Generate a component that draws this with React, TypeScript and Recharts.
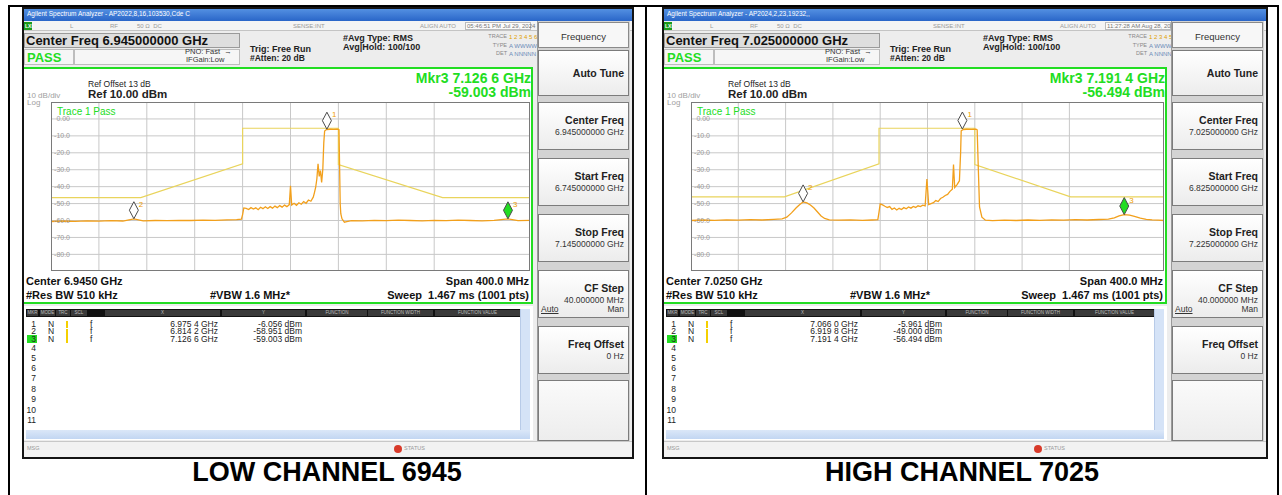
import React from 'react';
import { ComposedChart, Line, XAxis, YAxis, CartesianGrid, ReferenceDot } from 'recharts';

const FONT = '"Liberation Sans", Arial, Helvetica, sans-serif';
const TRACE_COLOR = '#f2a01c';
const LIMIT_COLOR = '#e9d45c';
const GREEN = '#22dd22';

const levelTicks = [10, 0, -10, -20, -30, -40, -50, -60, -70, -80, -90];
const levelLabels = ['', '0.00', '-10.0', '-20.0', '-30.0', '-40.0', '-50.0', '-60.0', '-70.0', '-80.0', ''];

// low channel 6945, span 6.745 - 7.145 GHz
const lowGrid = [6.745, 6.785, 6.825, 6.865, 6.905, 6.945, 6.985, 7.025, 7.065, 7.105, 7.145];
const lowLimit: [number, number][] = [
  [6.745, -46.5], [6.82, -46.5], [6.905, -26.5], [6.905, -5.5],
  [6.985, -5.5], [6.985, -27], [7.072, -46.5], [7.145, -46.5],
];
const lowTrace: [number, number][] = [
  [6.745, -60.6], [6.755, -60.3], [6.765, -60.5], [6.775, -60.2], [6.785, -60.4], [6.795, -60.1],
  [6.805, -60.3], [6.8142, -59.0], [6.822, -60.2], [6.832, -60.0], [6.842, -60.1], [6.852, -59.9],
  [6.862, -60.0], [6.872, -59.8], [6.882, -59.9], [6.892, -59.6], [6.9, -59.5], [6.904, -59.2],
  [6.905, -56.5], [6.906, -52.6], [6.908, -52.9], [6.91, -53.5], [6.912, -52.4], [6.914, -53.2],
  [6.916, -52.5], [6.918, -53.6], [6.92, -52.2], [6.922, -53.0], [6.924, -51.9], [6.926, -52.9],
  [6.928, -51.8], [6.93, -52.7], [6.932, -51.5], [6.934, -52.4], [6.936, -51.2], [6.938, -52.1],
  [6.94, -50.9], [6.942, -51.8], [6.944, -50.6], [6.945, -39.5], [6.946, -50.8], [6.948, -49.8],
  [6.95, -51.0], [6.952, -49.5], [6.954, -50.4], [6.956, -48.8], [6.958, -49.8], [6.96, -47.9],
  [6.962, -48.6], [6.964, -46.2], [6.965, -43.5], [6.966, -40.5], [6.967, -35.5], [6.968, -26.5],
  [6.969, -34.0], [6.97, -30.5], [6.971, -37.5], [6.972, -29.5], [6.9728, -14.0], [6.9735, -7.2],
  [6.975, -6.3], [6.978, -6.1], [6.981, -6.2], [6.984, -6.0], [6.9855, -6.4], [6.986, -28.0],
  [6.9865, -50.0], [6.987, -56.0], [6.988, -59.0], [6.99, -61.0], [6.992, -60.6], [6.996, -60.1],
  [7.005, -60.2], [7.015, -59.9], [7.025, -60.1], [7.035, -59.8], [7.045, -60.0], [7.055, -60.2],
  [7.065, -59.9], [7.075, -60.1], [7.085, -59.8], [7.095, -60.0], [7.105, -60.2], [7.115, -59.9],
  [7.1266, -59.0], [7.135, -60.1], [7.145, -59.9],
];
const lowMarkerFreq = [6.9754, 6.8142, 7.1266];
const lowMarkerLevel = [-6.056, -58.951, -59.003];
const lowMarkerX = ['6.975 4 GHz', '6.814 2 GHz', '7.126 6 GHz'];
const lowMarkerY = ['-6.056 dBm', '-58.951 dBm', '-59.003 dBm'];
const lowSoft = ['', '6.945000000 GHz', '6.745000000 GHz', '7.145000000 GHz', '40.000000 MHz', '0 Hz'];

// high channel 7025, span 6.825 - 7.225 GHz
const highGrid = [6.825, 6.865, 6.905, 6.945, 6.985, 7.025, 7.065, 7.105, 7.145, 7.185, 7.225];
const highLimit: [number, number][] = [
  [6.825, -46], [6.904, -46], [6.984, -26.5], [6.984, -5.5],
  [7.065, -5.5], [7.065, -27], [7.146, -46], [7.225, -46],
];
const highTrace: [number, number][] = [
  [6.825, -60.0], [6.835, -59.7], [6.845, -59.9], [6.855, -59.6], [6.865, -59.8], [6.875, -59.5],
  [6.885, -59.7], [6.895, -59.3], [6.902, -59.0], [6.906, -58.0], [6.91, -55.5], [6.914, -52.5],
  [6.917, -50.5], [6.9198, -49.0], [6.923, -49.6], [6.926, -50.8], [6.929, -52.6], [6.932, -55.0],
  [6.935, -57.3], [6.938, -58.8], [6.942, -59.6], [6.95, -59.8], [6.96, -59.6], [6.97, -59.9],
  [6.978, -59.7], [6.983, -59.5], [6.984, -55.0], [6.985, -50.2], [6.987, -50.8], [6.989, -51.6],
  [6.991, -52.3], [6.993, -51.8], [6.995, -53.4], [6.997, -52.6], [6.999, -53.8], [7.001, -52.8],
  [7.003, -53.5], [7.005, -52.4], [7.007, -53.1], [7.009, -52.0], [7.011, -52.7], [7.013, -51.7],
  [7.015, -52.3], [7.017, -51.3], [7.019, -51.8], [7.021, -50.9], [7.023, -51.3], [7.0245, -35.5],
  [7.026, -50.6], [7.028, -50.0], [7.03, -49.5], [7.032, -48.2], [7.034, -48.8], [7.036, -47.0],
  [7.038, -46.3], [7.04, -45.2], [7.042, -44.6], [7.044, -42.8], [7.046, -41.5], [7.047, -27.0],
  [7.048, -40.5], [7.05, -38.8], [7.052, -36.5], [7.053, -20.0], [7.0535, -7.0], [7.055, -6.3],
  [7.058, -6.1], [7.062, -6.2], [7.066, -6.0], [7.067, -6.4], [7.068, -30.0], [7.069, -52.0],
  [7.071, -58.0], [7.074, -59.8], [7.08, -60.1], [7.09, -59.8], [7.1, -60.0], [7.11, -59.7],
  [7.12, -59.9], [7.13, -59.6], [7.14, -59.8], [7.15, -59.5], [7.16, -59.7], [7.17, -59.4],
  [7.178, -59.2], [7.183, -58.4], [7.187, -57.3], [7.1914, -56.5], [7.196, -56.8], [7.2, -57.6],
  [7.205, -58.6], [7.21, -59.3], [7.215, -59.6], [7.22, -59.8], [7.225, -60.0],
];
const highMarkerFreq = [7.0545, 6.9198, 7.1914];
const highMarkerLevel = [-5.961, -49.0, -56.494];
const highMarkerX = ['7.066 0 GHz', '6.919 8 GHz', '7.191 4 GHz'];
const highMarkerY = ['-5.961 dBm', '-49.000 dBm', '-56.494 dBm'];
const highSoft = ['', '7.025000000 GHz', '6.825000000 GHz', '7.225000000 GHz', '40.000000 MHz', '0 Hz'];

const softTitles = ['Auto Tune', 'Center Freq', 'Start Freq', 'Stop Freq', 'CF Step', 'Freq Offset'];
const softTops = [43, 95, 151, 207, 263, 319];
const softBottoms = [89, 143, 199, 255, 311, 367];
const rowY = [317, 324.5, 332, 341, 351, 361, 371.5, 382, 392.5, 403, 413.5];

const lowCfg = {
  title: 'Agilent Spectrum Analyzer - AP2022,8,16,103530,Cde C',
  date: '05:46:51 PM Jul 29, 2024',
  cf: 'Center Freq 6.945000000 GHz',
  mkrF: 'Mkr3 7.126 6 GHz',
  mkrL: '-59.003 dBm',
  center: 'Center 6.9450 GHz',
  grid: lowGrid,
  limit: lowLimit.map(([f, v]) => ({ f, v })),
  trace: lowTrace.map(([f, v]) => ({ f, v })),
  mFreq: lowMarkerFreq,
  mLevel: lowMarkerLevel,
  mX: lowMarkerX,
  mY: lowMarkerY,
  soft: lowSoft,
};

const highCfg = {
  title: 'Agilent Spectrum Analyzer - AP2024,2,23,19232,,',
  date: '11:27:28 AM Aug 28, 2024',
  cf: 'Center Freq 7.025000000 GHz',
  mkrF: 'Mkr3 7.191 4 GHz',
  mkrL: '-56.494 dBm',
  center: 'Center 7.0250 GHz',
  grid: highGrid,
  limit: highLimit.map(([f, v]) => ({ f, v })),
  trace: highTrace.map(([f, v]) => ({ f, v })),
  mFreq: highMarkerFreq,
  mLevel: highMarkerLevel,
  mX: highMarkerX,
  mY: highMarkerY,
  soft: highSoft,
};

const Txt = ({ x, y, s = 9, b = false, c = '#111', a = 'left', children, style }: any) => {
  const box = 600;
  const left = a === 'left' ? x : a === 'right' ? x - box : x - box / 2;
  return (
    <div
      style={{
        position: 'absolute',
        left,
        top: y - s / 2,
        width: a === 'left' ? undefined : box,
        textAlign: a,
        fontSize: s,
        lineHeight: `${s}px`,
        fontWeight: b ? 700 : 400,
        color: c,
        whiteSpace: 'pre',
        fontFamily: FONT,
        ...style,
      }}
    >
      {children}
    </div>
  );
};

const Box = ({ x, y, w, h, style }: any) => (
  <div style={{ position: 'absolute', left: x, top: y, width: w, height: h, boxSizing: 'border-box', ...style }} />
);

const LevelTick = (props: any) => {
  const { y, payload } = props;
  const i = levelTicks.indexOf(payload.value);
  return (
    <text x={19} y={y} dy={2.5} textAnchor="end" fontSize={7} fill="#9a9a9a" fontFamily={FONT}>
      {levelLabels[i]}
    </text>
  );
};

const Diamond = (props: any) => {
  const { cx, cy, fill, label } = props;
  const h = 8.5;
  const w = 4.5;
  return (
    <g>
      <polygon
        points={`${cx},${cy} ${cx + w},${cy - h} ${cx},${cy - 2 * h} ${cx - w},${cy - h}`}
        fill={fill}
        stroke="#4a4a4a"
        strokeWidth={1}
      />
      <text x={cx + 5} y={cy - 12} fontSize={8} fill="#f0a000" fontFamily={FONT}>
        {label}
      </text>
    </g>
  );
};

const Spectrum = ({ cfg, pw, ph }: any) => (
  <ComposedChart width={pw} height={ph} margin={{ top: 0, right: 0, bottom: 0, left: 0 }}>
    <CartesianGrid stroke="#c8c8c8" strokeWidth={1} />
    <XAxis
      type="number"
      dataKey="f"
      domain={[cfg.grid[0], cfg.grid[cfg.grid.length - 1]]}
      ticks={cfg.grid}
      allowDataOverflow
      hide
    />
    <YAxis
      type="number"
      domain={[-90, 10]}
      ticks={levelTicks}
      interval={0}
      mirror
      width={30}
      axisLine={false}
      tickLine={false}
      tick={LevelTick}
      allowDataOverflow
    />
    <Line
      data={cfg.limit}
      dataKey="v"
      type="linear"
      stroke={LIMIT_COLOR}
      strokeWidth={1.2}
      dot={false}
      isAnimationActive={false}
    />
    <Line
      data={cfg.trace}
      dataKey="v"
      type="linear"
      stroke={TRACE_COLOR}
      strokeWidth={1.3}
      dot={false}
      isAnimationActive={false}
    />
    {cfg.mFreq.map((f: number, i: number) => (
      <ReferenceDot
        key={i}
        x={f}
        y={cfg.mLevel[i]}
        r={4}
        shape={(p: any) => <Diamond {...p} fill={i === 2 ? GREEN : '#ffffff'} label={String(i + 1)} />}
      />
    ))}
  </ComposedChart>
);

const Screen = ({ x, w, cfg }: any) => {
  const plotL = 29;
  const plotT = 94.7;
  const plotW = w - 133;
  const plotH = 169.3;
  const greenR = w - 101;
  const panelL = w - 97;
  const panelW = 93;
  const tableR = w - 114;
  return (
    <div style={{ position: 'absolute', left: x, top: 7, width: w, height: 452, background: '#ededed', overflow: 'hidden' }}>
      {/* title bar */}
      <Box x={0} y={0} w={w} h={14} style={{ background: 'linear-gradient(#5a97e6, #2a66c8)' }} />
      <Txt x={5} y={7} s={6.5} c="#ffffff">{cfg.title}</Txt>
      {/* status row */}
      <Box x={0} y={14} w={w} h={10} style={{ background: '#f4f4f4', borderBottom: '1px solid #c4c4c4' }} />
      <Box x={2} y={15} w={8} h={8} style={{ background: '#1a9a1a' }} />
      <Txt x={3} y={19} s={5} c="#ffffff" b>LXI</Txt>
      <Txt x={48} y={19} s={6} c="#999">L</Txt>
      <Txt x={88} y={19} s={6} c="#999">RF</Txt>
      <Txt x={115} y={19} s={6} c="#999">50 Ω  DC</Txt>
      <Txt x={271} y={19} s={6} c="#999">SENSE:INT</Txt>
      <Txt x={398} y={19} s={6} c="#999">ALIGN AUTO</Txt>
      <Box x={443} y={15} w={66} h={8} style={{ border: '1px solid #bbb', background: '#fbfbfb' }} />
      <Txt x={445} y={19} s={6} c="#777">{cfg.date}</Txt>
      {/* center freq / pass */}
      <Box x={2} y={26} w={216} h={15} style={{ background: '#dedede', border: '1px solid #9a9a9a' }} />
      <Txt x={4} y={33.5} s={13} b>{cfg.cf}</Txt>
      <Box x={2} y={42} w={50} h={16} style={{ background: '#f6f6f6', border: '1px solid #bdbdbd' }} />
      <Box x={52} y={42} w={166} h={16} style={{ background: '#f6f6f6', border: '1px solid #bdbdbd' }} />
      <Txt x={5} y={50} s={13} b c={GREEN}>PASS</Txt>
      <Txt x={163} y={44.5} s={7.5} c="#333">PNO: Fast  →</Txt>
      <Txt x={164} y={52.5} s={7.5} c="#333">IFGain:Low</Txt>
      <Txt x={228} y={42} s={9} b c="#222">Trig: Free Run</Txt>
      <Txt x={228} y={51} s={8.5} b c="#222">#Atten: 20 dB</Txt>
      <Txt x={321} y={31} s={9} b c="#222">#Avg Type: RMS</Txt>
      <Txt x={321} y={40} s={9} b c="#222">Avg|Hold: 100/100</Txt>
      <Txt x={485} y={30} s={5.5} a="right" c="#888">TRACE</Txt>
      <Txt x={487} y={30} s={6} c="#e0a000">1 2 3 4 5 6</Txt>
      <Txt x={485} y={39} s={5.5} a="right" c="#888">TYPE</Txt>
      <Txt x={487} y={39} s={6} c="#6a8ab8">A WWWWW</Txt>
      <Txt x={485} y={47} s={5.5} a="right" c="#888">DET</Txt>
      <Txt x={487} y={47} s={6} c="#6a8ab8">A NNNNN</Txt>
      {/* main measurement area */}
      <Box x={0} y={60} w={greenR} h={237} style={{ background: '#ffffff', border: `2px solid ${GREEN}` }} />
      <Txt x={66} y={77} s={8.5} c="#222">Ref Offset 13 dB</Txt>
      <Txt x={66} y={88} s={11.5} b c="#222">Ref 10.00 dBm</Txt>
      <Txt x={5} y={89} s={8} c="#a0a0a0">10 dB/div</Txt>
      <Txt x={5} y={96} s={8} c="#a0a0a0">Log</Txt>
      <Txt x={greenR - 2} y={71} s={14} b a="right" c={GREEN}>{cfg.mkrF}</Txt>
      <Txt x={greenR - 2} y={85} s={14} b a="right" c={GREEN}>{cfg.mkrL}</Txt>
      <div style={{ position: 'absolute', left: plotL, top: plotT }}>
        <Spectrum cfg={cfg} pw={plotW} ph={plotH} />
      </div>
      <Box x={plotL} y={plotT} w={plotW} h={plotH} style={{ border: '1px solid #7a7a7a', pointerEvents: 'none' }} />
      <Txt x={35} y={105} s={10} c={GREEN}>Trace 1 Pass</Txt>
      <Txt x={4} y={274} s={11} b>{cfg.center}</Txt>
      <Txt x={greenR - 4} y={274} s={11} b a="right">Span 400.0 MHz</Txt>
      <Txt x={4} y={288} s={11} b>#Res BW 510 kHz</Txt>
      <Txt x={188} y={288} s={11} b>#VBW 1.6 MHz*</Txt>
      <Txt x={greenR - 4} y={288} s={11} b a="right">Sweep  1.467 ms (1001 pts)</Txt>
      {/* marker table */}
      <Box x={2} y={299} w={greenR - 2} h={134} style={{ background: '#ffffff' }} />
      <Box x={4} y={302} w={tableR - 4} h={8} style={{ background: '#111' }} />
      {[
        [5, 11, 'MKR'], [18, 15, 'MODE'], [34, 14, 'TRC'], [49, 16, 'SCL'], [83, 115, 'X'],
        [200, 83, 'Y'], [285, 60, 'FUNCTION'], [346, 65, 'FUNCTION WIDTH'], [413, tableR - 413, 'FUNCTION VALUE'],
      ].map(([cx, cw, t]: any, i: number) => (
        <React.Fragment key={i}>
          <Box x={cx} y={303} w={cw} h={6} style={{ background: '#3a3a3a' }} />
          <Txt x={cx + cw / 2} y={306} s={4.5} a="center" c="#bdbdbd">{t}</Txt>
        </React.Fragment>
      ))}
      <Box x={tableR} y={302} w={10} h={121} style={{ background: '#d5e3f7', borderLeft: '1px solid #b8cbe8' }} />
      <Box x={4} y={423} w={tableR + 6} h={9} style={{ background: 'linear-gradient(#dbe7f8, #c2d6f2)' }} />
      <Box x={5} y={rowY[2] - 4} w={10} h={8} style={{ background: GREEN }} />
      {rowY.map((ry, i) => (
        <Txt key={i} x={14} y={ry} s={8.5} a="right" c="#222">{String(i + 1)}</Txt>
      ))}
      {cfg.mX.map((mx: string, i: number) => (
        <React.Fragment key={i}>
          <Txt x={26} y={rowY[i]} s={8.5} c="#222">N</Txt>
          <Box x={44} y={rowY[i] - 3} w={1.5} h={7} style={{ background: '#f5d000' }} />
          <Txt x={68} y={rowY[i]} s={8.5} c="#222">f</Txt>
          <Txt x={196} y={rowY[i]} s={8.5} a="right" c="#222">{mx}</Txt>
          <Txt x={280} y={rowY[i]} s={8.5} a="right" c="#222">{cfg.mY[i]}</Txt>
        </React.Fragment>
      ))}
      {/* status bar */}
      <Box x={0} y={434} w={w} h={18} style={{ background: '#f2f2f2', borderTop: '1px solid #c8c8c8' }} />
      <Txt x={5} y={442} s={5.5} c="#999">MSG</Txt>
      <Box x={372} y={438} w={8} h={8} style={{ background: '#d83a2a', borderRadius: 4 }} />
      <Txt x={382} y={442} s={5.5} c="#999">STATUS</Txt>
      {/* softkey panel */}
      <Box x={panelL} y={14} w={panelW} h={420} style={{ background: '#d3d3d3', borderLeft: '1px solid #9a9a9a' }} />
      <Box x={panelL + 1} y={15} w={panelW - 2} h={26} style={{ background: '#f7f7f7', border: '1px solid #8a8a8a' }} />
      <Txt x={panelL + panelW / 2} y={30} s={9.5} a="center" c="#333">Frequency</Txt>
      {softTitles.map((t, i) => (
        <React.Fragment key={i}>
          <Box
            x={panelL + 1}
            y={softTops[i]}
            w={panelW - 2}
            h={softBottoms[i] - softTops[i]}
            style={{ background: 'linear-gradient(#ffffff, #ececec)', border: '1px solid #7c7c7c' }}
          />
          <Txt x={panelL + panelW - 6} y={i === 0 ? 66 : softTops[i] + 18} s={10.5} b a="right" c="#222">{t}</Txt>
          {cfg.soft[i] && (
            <Txt x={panelL + panelW - 6} y={softTops[i] + 30.5} s={8.5} a="right" c="#333">{cfg.soft[i]}</Txt>
          )}
        </React.Fragment>
      ))}
      <Txt x={panelL + 4} y={302} s={8.5} c="#333" style={{ textDecoration: 'underline' }}>Auto</Txt>
      <Txt x={panelL + panelW - 6} y={302} s={8.5} a="right" c="#333">Man</Txt>
      <Box x={panelL + 1} y={373} w={panelW - 2} h={61} style={{ background: 'linear-gradient(#fafafa, #ededed)', border: '1px solid #7c7c7c' }} />
      {/* screen frame */}
      <Box x={0} y={0} w={w} h={452} style={{ border: '2px solid #141414', pointerEvents: 'none' }} />
    </div>
  );
};

export default function App() {
  return (
    <div style={{ position: 'absolute', left: 0, top: 0, width: 1282, height: 495, background: '#ffffff', overflow: 'hidden', fontFamily: FONT }}>
      <Box x={8} y={5} w={1271} h={2} style={{ background: '#000' }} />
      <Box x={8} y={5} w={2} h={490} style={{ background: '#000' }} />
      <Box x={645} y={5} w={2} h={490} style={{ background: '#000' }} />
      <Box x={1277} y={5} w={2} h={490} style={{ background: '#000' }} />
      <Screen x={22} w={612} cfg={lowCfg} />
      <Screen x={662} w={606} cfg={highCfg} />
      <Txt x={327} y={472} s={27} b a="center" c="#000">LOW CHANNEL 6945</Txt>
      <Txt x={962} y={472} s={27} b a="center" c="#000">HIGH CHANNEL 7025</Txt>
    </div>
  );
}
